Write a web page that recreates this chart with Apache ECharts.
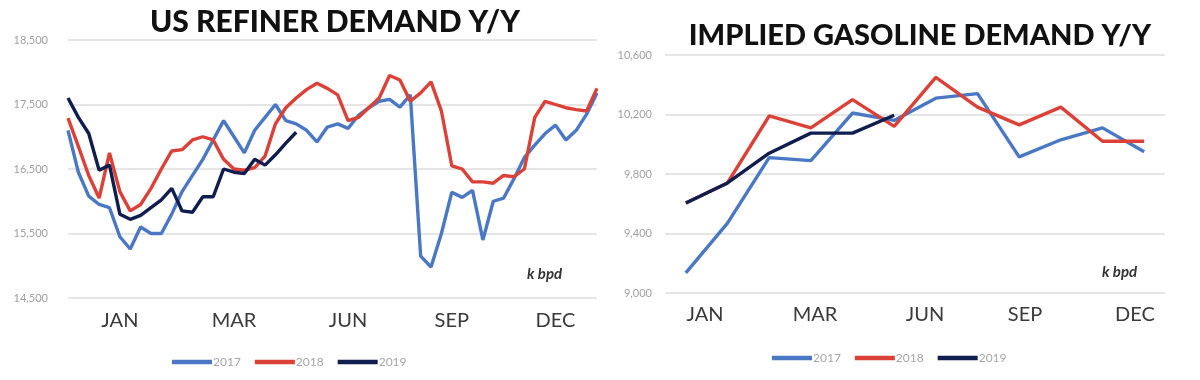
<!DOCTYPE html>
<html>
<head>
<meta charset="utf-8">
<script src="https://cdn.jsdelivr.net/npm/echarts@6/dist/echarts.min.js"></script>
<style>
html,body{margin:0;padding:0;background:#fff;}
#chart{width:1200px;height:380px;}
</style>
</head>
<body>
<div id="chart"></div>
<script>
// ---------- Left chart: US refiner demand (weekly, k bpd) ----------
var refinerWeeks = [];
for (var w = 1; w <= 52; w++) refinerWeeks.push('W' + w);
var refinerTickLabels = {5: 'JAN', 16: 'MAR', 27: 'JUN', 37: 'SEP', 47: 'DEC'};
var refiner2017 = [17100,16450,16080,15950,15900,15450,15260,15600,15500,15500,
                   15800,16150,16400,16650,16950,17250,17000,16750,17100,17300,
                   17500,17250,17200,17100,16920,17150,17200,17130,17330,17450,
                   17550,17580,17460,17650,15150,14980,15500,16140,16060,16170,
                   15400,16000,16050,16350,16680,16870,17050,17180,16950,17100,
                   17350,17680];
var refiner2018 = [17290,16850,16400,16050,16750,16150,15850,15950,16200,16500,
                   16780,16800,16950,17000,16950,16650,16500,16480,16520,16700,
                   17200,17450,17600,17730,17830,17750,17650,17250,17300,17450,
                   17600,17950,17880,17550,17680,17850,17400,16550,16500,16300,
                   16300,16280,16400,16380,16500,17300,17550,17500,17450,17420,
                   17400,17750];
var refiner2019 = [17600,17300,17050,16480,16560,15800,15720,15780,15900,16020,
                   16200,15850,15830,16070,16070,16500,16450,16430,16650,16560,
                   16720,16900,17070];

// ---------- Right chart: implied gasoline demand (monthly, k bpd) ----------
var gasMonths = ['Jan','Feb','Mar','Apr','May','Jun','Jul','Aug','Sep','Oct','Nov','Dec'];
var gas2017 = [9135,9470,9910,9890,10210,10160,10310,10340,9915,10030,10110,9950];
var gas2018 = [9605,9740,10190,10110,10300,10120,10450,10250,10130,10250,10020,10020];
var gas2019 = [9605,9740,9940,10075,10075,10195];
var gasTickSlots = 51;
var gasTickLabels = {4: 'JAN', 15: 'MAR', 26: 'JUN', 36: 'SEP', 47: 'DEC'};

var seriesNames = ['2017', '2018', '2019'];
var seriesColors = ['#4a78c4', '#dc4138', '#0f1d4f'];

var gasSlots = [];
for (var s = 0; s < gasTickSlots; s++) gasSlots.push(gasTickLabels[s] || '');
var refinerLabelCats = refinerWeeks.map(function (d, i) { return refinerTickLabels[i] || ''; });

var chart = echarts.init(document.getElementById('chart'), null, {renderer: 'canvas'});

var numFmt = function (v) { return v.toLocaleString('en-US'); };
var axisFont = 'Lato, "Open Sans", sans-serif';

function lineSeries(name, color, data, xi, yi, z) {
  return {
    name: name, type: 'line', data: data, xAxisIndex: xi, yAxisIndex: yi,
    symbol: 'none', smooth: false, z: z,
    lineStyle: {color: color, width: 3.4},
    itemStyle: {color: color}
  };
}

var legendText = {color: '#a6a6a6', fontSize: 12, fontFamily: axisFont, padding: [0, 0, 0, -4]};

var option = {
  animation: false,
  backgroundColor: '#ffffff',
  title: [
    {text: 'US REFINER DEMAND Y/Y', left: 330, top: 2, textAlign: 'center',
     textStyle: {fontFamily: axisFont, fontWeight: 900, fontSize: 30, color: '#111'}},
    {text: 'IMPLIED GASOLINE DEMAND Y/Y', left: 915, top: 16, textAlign: 'center',
     textStyle: {fontFamily: axisFont, fontWeight: 900, fontSize: 29, color: '#111'}}
  ],
  legend: [
    {data: seriesNames, left: 167, top: 351, icon: 'rect', itemWidth: 40, itemHeight: 4.5,
     itemGap: 14, textStyle: legendText},
    {data: seriesNames, left: 767, top: 347, icon: 'rect', itemWidth: 40, itemHeight: 4.5,
     itemGap: 14, textStyle: legendText}
  ],
  grid: [
    {left: 68, right: 603, top: 40, bottom: 82},
    {left: 665, right: 35, top: 55, bottom: 87}
  ],
  xAxis: [
    {type: 'category', gridIndex: 0, data: refinerLabelCats, boundaryGap: false,
     axisLine: {show: false}, axisTick: {show: false},
     axisLabel: {interval: 0, color: '#3a3a3a', fontSize: 20, fontFamily: axisFont, margin: 13}},
    {type: 'category', gridIndex: 1, data: gasMonths, boundaryGap: true,
     axisLine: {show: false}, axisTick: {show: false}, axisLabel: {show: false}},
    {type: 'category', gridIndex: 1, data: gasSlots, boundaryGap: false, position: 'bottom',
     axisLine: {show: false}, axisTick: {show: false},
     axisLabel: {interval: 0, color: '#3a3a3a', fontSize: 20, fontFamily: axisFont, margin: 12}}
  ],
  yAxis: [
    {type: 'value', gridIndex: 0, min: 14500, max: 18500, interval: 1000,
     axisLine: {show: false}, axisTick: {show: false},
     axisLabel: {formatter: numFmt, color: '#a0a0a0', fontSize: 11, fontFamily: axisFont, margin: 20},
     splitLine: {lineStyle: {color: '#dcdcdc', width: 1.5}}},
    {type: 'value', gridIndex: 1, min: 9000, max: 10600, interval: 400,
     axisLine: {show: false}, axisTick: {show: false},
     axisLabel: {formatter: numFmt, color: '#a0a0a0', fontSize: 11, fontFamily: axisFont, margin: 13},
     splitLine: {lineStyle: {color: '#dcdcdc', width: 1.5}}}
  ],
  graphic: [
    {type: 'text', left: 527, top: 267,
     style: {text: 'k bpd', font: 'italic bold 15px Lato, sans-serif', fill: '#333'}},
    {type: 'text', left: 1102, top: 265,
     style: {text: 'k bpd', font: 'italic bold 15px Lato, sans-serif', fill: '#333'}}
  ],
  series: [
    lineSeries(seriesNames[0], seriesColors[0], refiner2017, 0, 0, 2),
    lineSeries(seriesNames[1], seriesColors[1], refiner2018, 0, 0, 3),
    lineSeries(seriesNames[2], seriesColors[2], refiner2019, 0, 0, 4),
    lineSeries(seriesNames[0], seriesColors[0], gas2017, 1, 1, 2),
    lineSeries(seriesNames[1], seriesColors[1], gas2018, 1, 1, 3),
    lineSeries(seriesNames[2], seriesColors[2], gas2019, 1, 1, 4)
  ]
};
chart.setOption(option);
</script>
</body>
</html>
